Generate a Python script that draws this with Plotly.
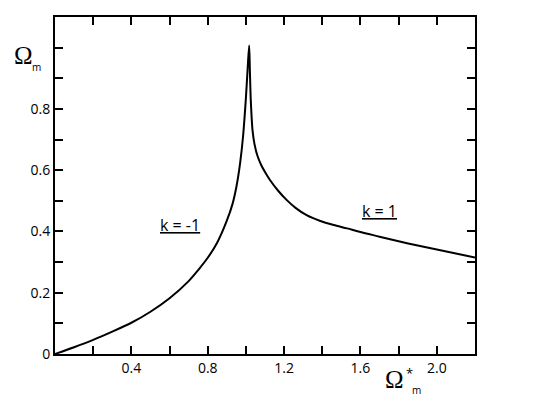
"""Resonance curve Omega_m vs Omega*_m with k = -1 / k = 1 branches."""

import plotly.graph_objects as go

# curve
OMEGA_STAR = [0, 0.1, 0.2, 0.3, 0.4, 0.5, 0.6, 0.7, 0.75, 0.8, 0.85, 0.9, 0.93, 0.95,
              0.97, 0.985, 1.0, 1.008, 1.017, 1.021, 1.025, 1.03, 1.035, 1.045, 1.06,
              1.08, 1.1, 1.126, 1.17, 1.213, 1.26, 1.318, 1.39, 1.46, 1.53, 1.6, 1.7,
              1.8, 1.9, 2.0, 2.1, 2.2]
OMEGA_M = [0, 0.022, 0.046, 0.073, 0.102, 0.138, 0.182, 0.238, 0.274, 0.314, 0.364,
           0.435, 0.49, 0.545, 0.625, 0.71, 0.836, 0.92, 1.007, 0.92, 0.836, 0.772,
           0.728, 0.685, 0.648, 0.617, 0.594, 0.568, 0.532, 0.503, 0.477, 0.453,
           0.434, 0.421, 0.41, 0.398, 0.383, 0.368, 0.354, 0.341, 0.328, 0.315]

X_TICKS = [0.2, 0.4, 0.6, 0.8, 1.0, 1.2, 1.4, 1.6, 1.8, 2.0]
X_LABELS = ["", "0.4", "", "0.8", "", "1.2", "", "1.6", "", "2.0"]
Y_TICKS = [0, 0.1, 0.2, 0.3, 0.4, 0.5, 0.6, 0.7, 0.8, 0.9, 1.0]
Y_LABELS = ["0", "", "0.2", "", "0.4", "", "0.6", "", "0.8", "", ""]

BRANCH_LABELS = ["<u>k = -1</u>", "<u>k = 1</u>"]
BRANCH_X = [0.655, 1.70]
BRANCH_Y = [0.42, 0.468]

SANS = "Open Sans, Arial, sans-serif"
SERIF = "Liberation Serif, Times New Roman, serif"

fig = go.Figure()
fig.add_trace(go.Scatter(x=OMEGA_STAR, y=OMEGA_M, mode="lines",
                         line={"color": "black", "width": 2, "shape": "spline",
                               "smoothing": 0.8},
                         showlegend=False, hoverinfo="skip"))

axis_common = dict(showgrid=False, zeroline=False, showline=True, linecolor="black",
                   linewidth=2, mirror="ticks", ticks="inside", ticklen=8,
                   tickwidth=2, tickcolor="black",
                   tickfont={"family": SANS, "size": 14, "color": "black"})
fig.update_xaxes(range=[0, 2.2], tickvals=X_TICKS, ticktext=X_LABELS, **axis_common)
fig.update_yaxes(range=[0, 1.1], tickvals=Y_TICKS, ticktext=Y_LABELS, **axis_common)

for text, x, y in zip(BRANCH_LABELS, BRANCH_X, BRANCH_Y):
    fig.add_annotation(x=x, y=y, text=text, showarrow=False,
                       font={"family": SANS, "size": 16, "color": "black"})

# axis titles built from pieces so the sub/superscripts sit like the original
titles = [
    ("Ω", -0.076, 0.885, SERIF, 25),
    ("m", -0.044, 0.852, SANS, 10),
    ("Ω", 0.808, -0.075, SERIF, 25),
    ("*", 0.843, -0.055, SANS, 13),
    ("m", 0.86, -0.108, SANS, 10),
]
for text, x, y, family, size in titles:
    fig.add_annotation(x=x, y=y, xref="paper", yref="paper", text=text, showarrow=False,
                       xanchor="center", yanchor="middle",
                       font={"family": family, "size": size, "color": "black"})

# page body adds an 8px margin, so the figure is trimmed to fit the window
fig.update_layout(width=542, height=401, margin={"l": 47, "r": 75, "t": 7, "b": 55},
                  plot_bgcolor="white", paper_bgcolor="white")

fig.write_html("out.html")
